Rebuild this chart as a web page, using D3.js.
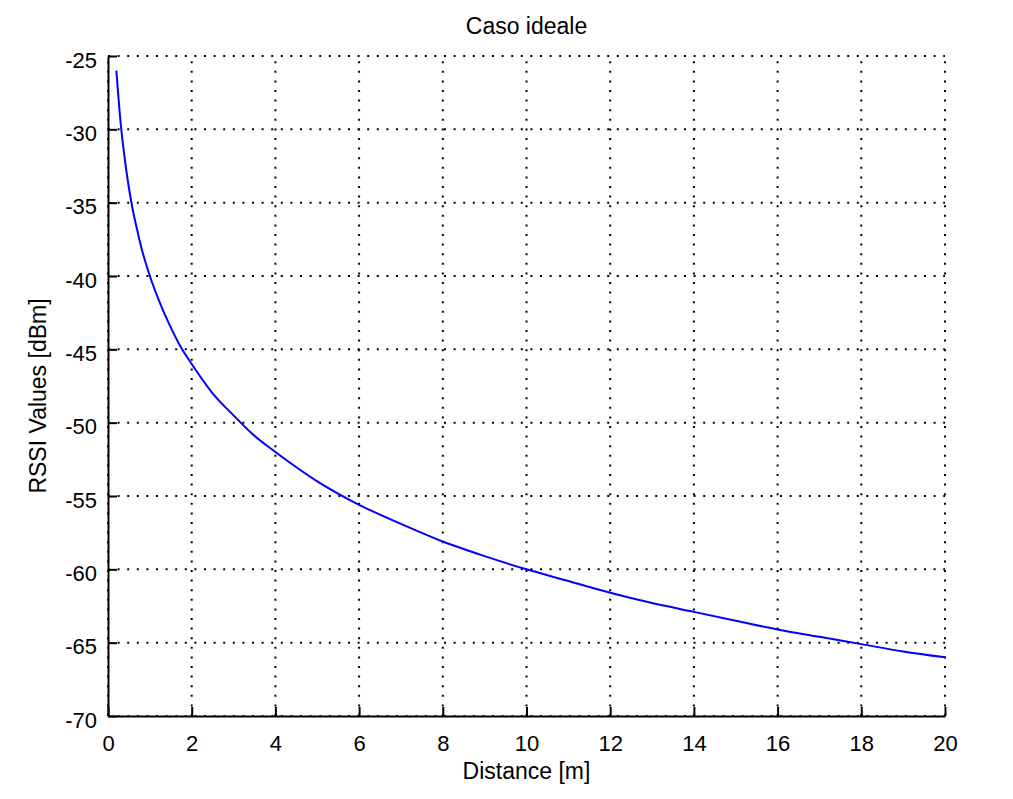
<!DOCTYPE html>
<meta charset="utf-8">
<script src="https://d3js.org/d3.v7.min.js"></script>
<style>
  body { margin: 0; background: #fff; }
  text { font-family: "Liberation Sans", Arial, sans-serif; }
</style>
<div id="chart"></div>
<script>
// values
var distance = [0.2, 0.3, 0.4, 0.5, 0.6, 0.7, 0.8, 0.9, 1.0, 1.25, 1.5, 1.75, 2, 2.5, 3, 3.5, 4, 5, 6, 7, 8, 9, 10, 11, 12, 13, 14, 15, 16, 17, 18, 19, 20];
var rssi = [-26.0, -29.5, -32.0, -34.0, -35.6, -36.9, -38.1, -39.1, -40.0, -41.9, -43.5, -44.9, -46.0, -48.0, -49.5, -50.9, -52.0, -54.0, -55.6, -56.9, -58.1, -59.1, -60.0, -60.8, -61.6, -62.3, -62.9, -63.5, -64.1, -64.6, -65.1, -65.6, -66.0];
var xTicks = [0, 2, 4, 6, 8, 10, 12, 14, 16, 18, 20];
var yTicks = [-70, -65, -60, -55, -50, -45, -40, -35, -30, -25];

var W = 1013, H = 799;
var plot = {left: 108, right: 945, top: 56, bottom: 716};

var svg = d3.select("#chart").append("svg")
    .attr("width", W)
    .attr("height", H);

var x = d3.scaleLinear().domain([0, 20]).range([plot.left, plot.right]);
var y = d3.scaleLinear().domain([-70, -25]).range([plot.bottom, plot.top]);

// dotted grid
var grid = svg.append("g").attr("stroke", "#000").attr("stroke-width", 2)
    .attr("stroke-dasharray", "2,7.6");
grid.selectAll(".gx").data(xTicks).enter().append("line")
    .attr("x1", function(d) { return x(d); })
    .attr("x2", function(d) { return x(d); })
    .attr("y1", plot.bottom).attr("y2", plot.top);
grid.selectAll(".gy").data(yTicks).enter().append("line")
    .attr("y1", function(d) { return y(d); })
    .attr("y2", function(d) { return y(d); })
    .attr("x1", plot.left).attr("x2", plot.right);

// axes, ticks pointing inwards
var xAxis = svg.append("g")
    .attr("transform", "translate(0," + plot.bottom + ")")
    .call(d3.axisBottom(x).tickValues(xTicks).tickSizeInner(-9).tickSizeOuter(0).tickPadding(19));
var yAxis = svg.append("g")
    .attr("transform", "translate(" + plot.left + ",0)")
    .call(d3.axisLeft(y).tickValues(yTicks).tickSizeInner(-9).tickSizeOuter(0).tickPadding(11)
      .tickFormat(function(d) { return String(d); }));

[xAxis, yAxis].forEach(function(a) {
  a.selectAll("path, line").attr("stroke", "#000").attr("stroke-width", 2);
  a.selectAll("text")
    .style("font-family", "'Liberation Sans', Arial, sans-serif")
    .style("font-size", "22px")
    .attr("fill", "#000");
});
yAxis.selectAll("text").attr("dy", "0.5em");

// curve
var pts = distance.map(function(d, i) { return [d, rssi[i]]; });
svg.append("path")
    .datum(pts)
    .attr("fill", "none")
    .attr("stroke", "#0000ff")
    .attr("stroke-width", 2)
    .attr("d", d3.line()
      .x(function(d) { return x(d[0]); })
      .y(function(d) { return y(d[1]); })
      .curve(d3.curveMonotoneX));

// labels
svg.append("text")
    .attr("x", (plot.left + plot.right) / 2)
    .attr("y", 34)
    .attr("text-anchor", "middle")
    .style("font-size", "23px")
    .text("Caso ideale");

svg.append("text")
    .attr("x", (plot.left + plot.right) / 2)
    .attr("y", 779)
    .attr("text-anchor", "middle")
    .style("font-size", "23px")
    .text("Distance [m]");

svg.append("text")
    .attr("transform", "translate(46,396) rotate(-90)")
    .attr("text-anchor", "middle")
    .style("font-size", "23px")
    .text("RSSI Values [dBm]");
</script>
